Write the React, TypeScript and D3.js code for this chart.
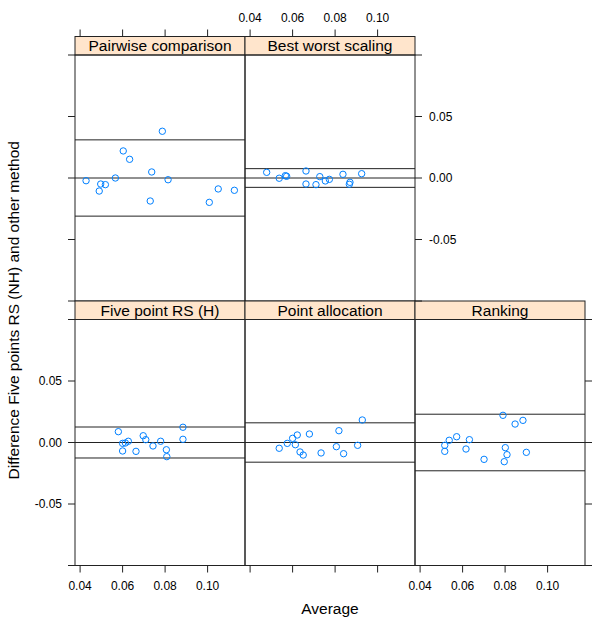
import React from "react";
import * as d3 from "d3";

const panelNames = ["Pairwise comparison", "Best worst scaling", "Five point RS (H)", "Point allocation", "Ranking"];

const pairwiseX = [0.0428, 0.0497, 0.0519, 0.049, 0.0566, 0.0603, 0.0633, 0.0787, 0.0737, 0.0814, 0.073, 0.1008, 0.105, 0.1126];
const pairwiseY = [-0.0022, -0.0049, -0.0054, -0.0106, 0.0, 0.022, 0.0152, 0.038, 0.0049, -0.0014, -0.0187, -0.0198, -0.0089, -0.01];

const bestWorstX = [0.0478, 0.0537, 0.0566, 0.0572, 0.0663, 0.0663, 0.071, 0.0728, 0.0754, 0.0773, 0.0837, 0.087, 0.0867, 0.0925];
const bestWorstY = [0.0046, -0.0002, 0.0019, 0.0014, 0.0057, -0.0049, -0.0054, 0.0011, -0.0024, -0.0011, 0.003, -0.0035, -0.0051, 0.0035];

const fivePointX = [0.058, 0.06, 0.0613, 0.0627, 0.06, 0.0663, 0.0697, 0.0709, 0.0743, 0.0779, 0.0806, 0.0808, 0.0884, 0.0884];
const fivePointY = [0.0088, -0.0007, -0.0004, 0.001, -0.0069, -0.0072, 0.0055, 0.0023, -0.0028, 0.001, -0.0059, -0.0115, 0.0124, 0.0026];

const pointAllocX = [0.0537, 0.0575, 0.06, 0.0622, 0.0613, 0.0635, 0.065, 0.0679, 0.0734, 0.0806, 0.0818, 0.084, 0.0906, 0.0928];
const pointAllocY = [-0.0047, -0.0007, 0.0034, 0.0061, -0.0018, -0.0077, -0.0102, 0.0069, -0.0085, -0.0034, 0.0096, -0.0091, -0.0023, 0.0183];

const rankingX = [0.0516, 0.0516, 0.0537, 0.0572, 0.0632, 0.0616, 0.0701, 0.079, 0.0847, 0.0884, 0.0801, 0.0809, 0.0796, 0.09];
const rankingY = [-0.0023, -0.0072, 0.0018, 0.0047, 0.0023, -0.0053, -0.0137, 0.0221, 0.015, 0.018, -0.0042, -0.0099, -0.0156, -0.008];

const limits = [0.031, 0.0076, 0.0126, 0.016, 0.023];

const xTicks = [0.04, 0.06, 0.08, 0.1];
const yTicks = [-0.1, -0.05, 0, 0.05, 0.1];
const yLabelTicks = [-0.05, 0, 0.05];

const seriesX = [pairwiseX, bestWorstX, fivePointX, pointAllocX, rankingX];
const seriesY = [pairwiseY, bestWorstY, fivePointY, pointAllocY, rankingY];
const panelPos = [
  { row: 0, col: 0 },
  { row: 0, col: 1 },
  { row: 1, col: 0 },
  { row: 1, col: 1 },
  { row: 1, col: 2 },
];

const W = 600;
const H = 625;
const left0 = 75;
const panelW = 170;
const panelH = 246;
const stripH = 18.5;
const top0 = 36.5;
const TL = 7;
const POINT_COL = "#0080ff";
const STRIP_FILL = "#ffe5cc";
const FONT = "'Liberation Sans', Arial, Helvetica, sans-serif";

function rowTop(row: number) {
  return top0 + row * (stripH + panelH);
}

export default function App() {
  const fmtX = (v: number) => d3.format(".2f")(v);
  const fmtY = (v: number) => (v === 0 ? "0.00" : d3.format(".2f")(v).replace("−", "-"));

  const colX = (c: number) => left0 + c * panelW;
  const xScaleFor = (c: number) =>
    d3.scaleLinear().domain([0.0376, 0.1176]).range([colX(c), colX(c) + panelW]);
  const yScaleFor = (r: number) => {
    const pt = rowTop(r) + stripH;
    return d3.scaleLinear().domain([-0.1, 0.1]).range([pt + panelH, pt]);
  };

  const elems: React.ReactNode[] = [];

  panelNames.forEach((name, i) => {
    const { row, col } = panelPos[i];
    const x = xScaleFor(col);
    const y = yScaleFor(row);
    const st = rowTop(row);
    const pt = st + stripH;
    const px = colX(col);
    elems.push(
      <g key={"p" + i}>
        <rect x={px} y={st} width={panelW} height={stripH} fill={STRIP_FILL} stroke="#222" strokeWidth={1} />
        <text x={px + panelW / 2} y={st + stripH / 2 + 5.5} textAnchor="middle" fontSize={15.5} fontFamily={FONT} fill="#000">
          {name}
        </text>
        <rect x={px} y={pt} width={panelW} height={panelH} fill="none" stroke="#222" strokeWidth={1} />
        {[0, limits[i], -limits[i]].map((v, k) => (
          <line key={k} x1={px} x2={px + panelW} y1={y(v)} y2={y(v)} stroke="#222" strokeWidth={1} />
        ))}
        {seriesX[i].map((xv, k) => (
          <circle key={k} cx={x(xv)} cy={y(seriesY[i][k])} r={3.2} fill="none" stroke={POINT_COL} strokeWidth={1} />
        ))}
      </g>
    );
  });

  const axes: React.ReactNode[] = [];
  [0, 1].forEach((c) => {
    const x = xScaleFor(c);
    const yy = rowTop(0);
    xTicks.forEach((t, k) => {
      axes.push(<line key={`tt${c}${k}`} x1={x(t)} x2={x(t)} y1={yy} y2={yy - TL} stroke="#222" />);
      if (c === 1)
        axes.push(
          <text key={`tl${c}${k}`} x={x(t)} y={21.5} textAnchor="middle" fontSize={12} fontFamily={FONT} fill="#000">
            {fmtX(t)}
          </text>
        );
    });
  });
  [0, 1, 2].forEach((c) => {
    const x = xScaleFor(c);
    const yy = rowTop(1) + stripH + panelH;
    xTicks.forEach((t, k) => {
      axes.push(<line key={`bt${c}${k}`} x1={x(t)} x2={x(t)} y1={yy} y2={yy + TL} stroke="#222" />);
      if (c !== 1)
        axes.push(
          <text key={`bl${c}${k}`} x={x(t)} y={590} textAnchor="middle" fontSize={12} fontFamily={FONT} fill="#000">
            {fmtX(t)}
          </text>
        );
    });
  });
  [0, 1].forEach((r) => {
    const y = yScaleFor(r);
    yTicks.forEach((t, k) => {
      axes.push(<line key={`lt${r}${k}`} x1={left0} x2={left0 - TL} y1={y(t)} y2={y(t)} stroke="#222" />);
    });
    if (r === 1)
      yLabelTicks.forEach((t, k) => {
        axes.push(
          <text key={`ll${r}${k}`} x={left0 - TL - 6} y={y(t) + 4.3} textAnchor="end" fontSize={12} fontFamily={FONT} fill="#000">
            {fmtY(t)}
          </text>
        );
      });
  });
  [0, 1].forEach((r) => {
    const y = yScaleFor(r);
    const xr = r === 0 ? colX(2) : colX(3);
    yTicks.forEach((t, k) => {
      axes.push(<line key={`rt${r}${k}`} x1={xr} x2={xr + TL} y1={y(t)} y2={y(t)} stroke="#222" />);
    });
    if (r === 0)
      yLabelTicks.forEach((t, k) => {
        axes.push(
          <text key={`rl${r}${k}`} x={xr + TL + 7} y={y(t) + 4.3} textAnchor="start" fontSize={12} fontFamily={FONT} fill="#000">
            {fmtY(t)}
          </text>
        );
      });
  });

  const plotMidY = (rowTop(0) + stripH + rowTop(1) + stripH + panelH) / 2;

  return (
    <svg width={W} height={H} style={{ position: "absolute", left: 0, top: 0, background: "#fff" }}>
      <rect x={0} y={0} width={W} height={H} fill="#fff" />
      {elems}
      {axes}
      <text x={left0 + (3 * panelW) / 2} y={614} textAnchor="middle" fontSize={15.5} fontFamily={FONT} fill="#000">
        Average
      </text>
      <text
        transform={`translate(19,${plotMidY}) rotate(-90)`}
        textAnchor="middle"
        fontSize={15.5}
        fontFamily={FONT}
        fill="#000"
      >
        Difference Five points RS (NH) and other method
      </text>
    </svg>
  );
}
